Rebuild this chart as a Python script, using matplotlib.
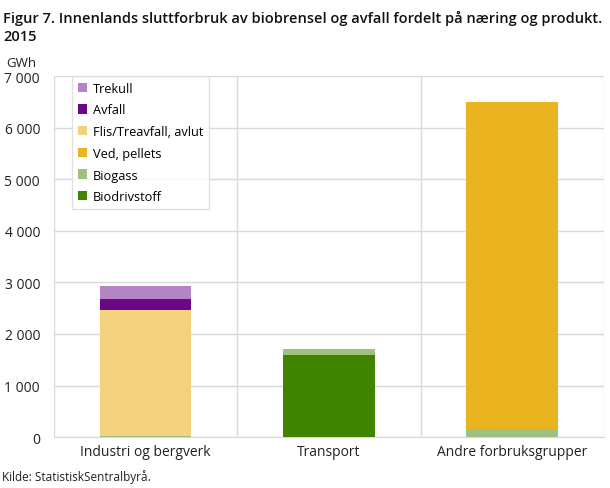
import numpy as np
import matplotlib.pyplot as plt

categories = ['Industri og bergverk', 'Transport', 'Andre forbruksgrupper']
series = ['Biodrivstoff', 'Biogass', 'Ved, pellets', 'Flis/Treavfall, avlut', 'Avfall', 'Trekull']
biodrivstoff = [0, 1600, 10]
biogass = [25, 100, 150]
ved_pellets = [0, 0, 6330]
flis = [2445, 0, 0]
avfall = [210, 0, 0]
trekull = [250, 0, 0]
values = [biodrivstoff, biogass, ved_pellets, flis, avfall, trekull]
colors = ['#3f8300', '#9dc180', '#eab420', '#f3d27e', '#6a0785', '#b484c4']
yticks = [0, 1000, 2000, 3000, 4000, 5000, 6000, 7000]

plt.rcParams['font.family'] = ['Open Sans', 'DejaVu Sans']
fig = plt.figure(figsize=(6.10, 4.89), dpi=100)
ax = fig.add_axes([0.0885, 0.104, 0.9015, 0.7385])

x = np.arange(len(categories))
bottom = np.zeros(len(categories))
handles = []
for name, vals, col in zip(series, values, colors):
    h = ax.bar(x, vals, 0.5, bottom=bottom, color=col, label=name, zorder=3)
    handles.append(h)
    bottom += np.array(vals)

ax.set_xlim(-0.5, 2.5)
ax.set_ylim(0, 7000)
ax.set_yticks(yticks)
ax.set_yticklabels([f'{v:,}'.replace(',', ' ') for v in yticks])
ax.set_xticks(x)
ax.set_xticklabels(categories)
ax.grid(axis='y', color='#d9d9d9', lw=1, zorder=0)
for xv in [-0.5, 0.5, 1.5, 2.5]:
    ax.axvline(xv, color='#d9d9d9', lw=1, zorder=0)
for s in ['top', 'right', 'left']:
    ax.spines[s].set_visible(False)
ax.spines['bottom'].set_color('#d9d9d9')
ax.tick_params(length=0, labelsize=10, colors='#222222', pad=5)
ax.tick_params(axis='y', pad=10)

leg = ax.legend(handles[::-1], series[::-1], loc='upper left', bbox_to_anchor=(0.033, 1.0),
                borderaxespad=0, fontsize=9.2, frameon=True, fancybox=False, edgecolor='#d9d9d9',
                handlelength=0.75, handleheight=0.75, labelspacing=0.68, borderpad=0.45,
                handletextpad=0.4)
leg.get_frame().set_linewidth(1)

fig.text(0.005, 0.978, 'Figur 7. Innenlands sluttforbruk av biobrensel og avfall fordelt på næring og produkt.\n2015',
         fontsize=10.5, weight='semibold', va='top', ha='left', color='#111111', linespacing=1.4)
fig.text(0.011, 0.87, 'GWh', fontsize=9.5, color='#222222', va='center')
fig.text(0.004, 0.016, 'Kilde: StatistiskSentralbyrå.', fontsize=8.5, color='#222222')

fig.savefig('out.png', dpi=100)
